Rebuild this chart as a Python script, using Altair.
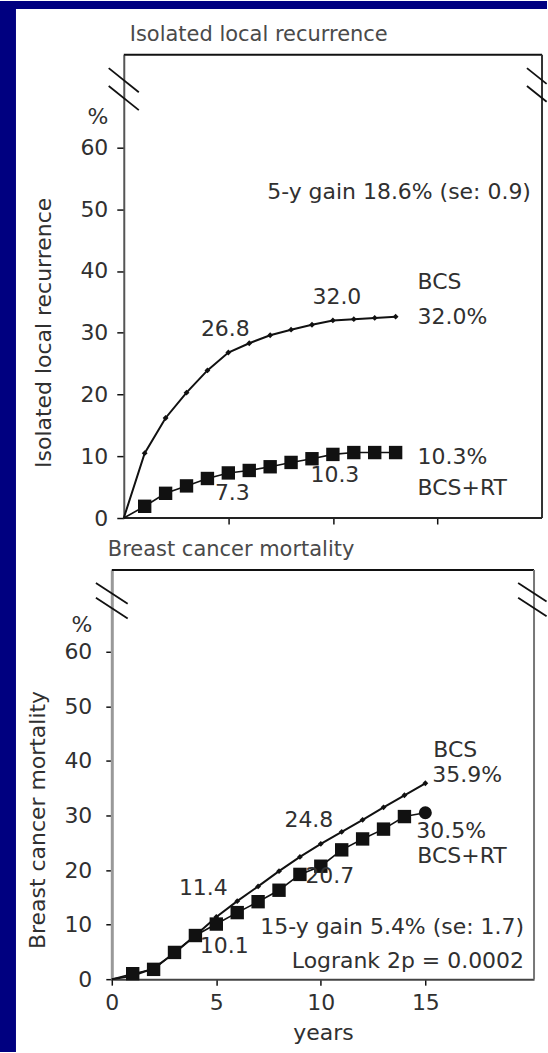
import altair as alt
import pandas as pd

# Cumulative risk (%) by year for breast-conserving surgery alone (BCS)
# and with radiotherapy (BCS+RT)
years_recurrence = list(range(0, 14))
bcs_recurrence = [0.0, 10.5, 16.2, 20.3, 23.9, 26.8, 28.3, 29.6, 30.5, 31.3, 32.0, 32.2, 32.4, 32.6]
rt_recurrence = [0.0, 1.9, 4.0, 5.2, 6.4, 7.3, 7.7, 8.3, 9.0, 9.6, 10.3, 10.6, 10.6, 10.6]

years_mortality = list(range(0, 16))
bcs_mortality = [0.0, 0.6, 2.0, 4.8, 8.0, 11.4, 14.3, 17.0, 19.8, 22.4, 24.8, 27.0, 29.2, 31.5, 33.7, 35.9]
rt_mortality = [0.0, 1.0, 1.8, 4.9, 8.0, 10.1, 12.2, 14.2, 16.3, 19.2, 20.7, 23.7, 25.7, 27.5, 29.8, 30.5]

y_ticks = [0, 10, 20, 30, 40, 50, 60]
x_ticks = [0, 5, 10, 15]
percent_tick = 65  # the "%" unit sits on the axis above 60

recurrence_note = ["5-y gain 18.6% (se: 0.9)"]
mortality_note = ["15-y gain 5.4% (se: 1.7)", "Logrank 2p = 0.0002"]

FONT = "DejaVu Sans"
FS = 22
INK = "#111111"
TEXT = "#303030"
SLIDE_BLUE = "#000080"


def long_frame(years, bcs, rt):
    return pd.DataFrame({
        "year": years + years,
        "pct": bcs + rt,
        "arm": ["BCS"] * len(years) + ["BCS+RT"] * len(years),
    })


def break_marks(x_center, centers, half_w, half_h, x_limit=None):
    rows = []
    for c in centers:
        x1, y1 = x_center - half_w, c + half_h
        x2, y2 = x_center + half_w, c - half_h
        if x_limit is not None and x2 > x_limit:
            t = (x_limit - x1) / (x2 - x1)
            x2, y2 = x_limit, y1 + t * (y2 - y1)
        rows.append({"year": x1, "pct": y1, "year2": x2, "pct2": y2})
    return pd.DataFrame(rows)


def panel(years, bcs, rt, *, title, title_dx, y_title, width, height, x_min, x_max,
          y_offset, y_title_x, y_title_y, y_tick_size, y_label_pad, y_domain_color,
          y_domain_width, right_color, curve_labels, notes, breaks, bottom_axis,
          rt_end_circle, backdrop=None):
    xs = alt.Scale(domain=[x_min, x_max], nice=False, zero=False)
    ys = alt.Scale(domain=[0, 75], nice=False)

    if bottom_axis:
        x_axis = alt.Axis(values=x_ticks, grid=False, tickSize=6, tickWidth=1.5, tickColor=INK,
                          domainColor="#444444", domainWidth=2, labelFontSize=FS, labelColor=TEXT,
                          labelPadding=7, labelFlush=False, labelOverlap=False, title="years",
                          titleFontSize=FS, titleFontWeight="normal", titleColor=TEXT, titlePadding=9)
    else:
        x_axis = alt.Axis(values=[5, 10, 15], grid=False, labels=False, domain=False, tickSize=6,
                          tickWidth=1.5, tickColor=INK, title=None)

    y_axis = alt.Axis(
        values=y_ticks + [percent_tick],
        labelExpr=f"datum.value == {percent_tick} ? '%' : datum.label",
        tickOpacity={"condition": {"test": f"datum.value == {percent_tick}", "value": 0}, "value": 1},
        grid=False, offset=y_offset, tickSize=y_tick_size, tickWidth=1.5, tickColor=INK,
        domainColor=y_domain_color, domainWidth=y_domain_width,
        labelFontSize=FS, labelColor=TEXT, labelPadding=y_label_pad, labelFlush=False,
        labelOverlap=False, title=y_title, titleFontSize=FS, titleFontWeight="normal",
        titleColor=TEXT, titleAngle=270, titleX=y_title_x, titleY=y_title_y,
        titleAlign="center", titleBaseline="alphabetic",
    )

    def X():
        return alt.X("year:Q", scale=xs, axis=x_axis)

    def Y():
        return alt.Y("pct:Q", scale=ys, axis=y_axis)

    layers = []
    if backdrop is not None:
        layers += backdrop

    # box: top border, right border (and baseline when there is no bottom axis)
    top_edge = pd.DataFrame({"year": [0.0], "year2": [x_max], "pct": [75.0]})
    layers.append(alt.Chart(top_edge).mark_rule(color=INK, strokeWidth=2)
                  .encode(x=X(), x2="year2:Q", y=Y()))
    right_edge = pd.DataFrame({"year": [x_max], "pct": [0.0], "pct2": [75.0]})
    layers.append(alt.Chart(right_edge).mark_rule(color=right_color, strokeWidth=2)
                  .encode(x=X(), y=Y(), y2="pct2:Q"))
    if not bottom_axis:
        base_edge = pd.DataFrame({"year": [0.0], "year2": [x_max], "pct": [0.0]})
        layers.append(alt.Chart(base_edge).mark_rule(color="#222222", strokeWidth=2)
                      .encode(x=X(), x2="year2:Q", y=Y()))

    data = long_frame(years, bcs, rt)
    layers.append(alt.Chart(data).transform_filter("datum.arm == 'BCS'")
                  .mark_line(color=INK, strokeWidth=2)
                  .encode(x=X(), y=Y()))
    layers.append(alt.Chart(data).transform_filter("datum.arm == 'BCS+RT'")
                  .mark_line(color=INK, strokeWidth=1.6)
                  .encode(x=X(), y=Y()))
    layers.append(alt.Chart(data).transform_filter("datum.arm == 'BCS' && datum.year > 0")
                  .mark_point(shape="diamond", filled=True, size=34, color=INK, opacity=1)
                  .encode(x=X(), y=Y()))
    last_year = years[-1]
    square_test = "datum.arm == 'BCS+RT' && datum.year > 0"
    if rt_end_circle:
        square_test += f" && datum.year < {last_year}"
        layers.append(alt.Chart(data)
                      .transform_filter(f"datum.arm == 'BCS+RT' && datum.year == {last_year}")
                      .mark_point(shape="circle", filled=True, size=170, color=INK, opacity=1)
                      .encode(x=X(), y=Y()))
    layers.append(alt.Chart(data).transform_filter(square_test)
                  .mark_point(shape="square", filled=True, size=180, color=INK, opacity=1)
                  .encode(x=X(), y=Y()))

    # values written beside the curves
    series = {"BCS": bcs, "BCS+RT": rt}
    for arm, anchor, value_year, template, dx, dy, align in curve_labels:
        vals = series[arm]
        text = template.format(vals[value_year]) if value_year is not None else template
        row = pd.DataFrame({"year": [years[anchor]], "pct": [vals[anchor]], "text": [text]})
        layers.append(alt.Chart(row).mark_text(font=FONT, fontSize=FS, color=TEXT, align=align,
                                               baseline="middle", dx=dx, dy=dy)
                      .encode(x=X(), y=Y(), text="text:N"))

    for text, xv, yv in notes:
        row = pd.DataFrame({"year": [xv], "pct": [yv], "text": [text]})
        layers.append(alt.Chart(row).mark_text(font=FONT, fontSize=FS, color=TEXT, align="right",
                                               baseline="middle")
                      .encode(x=X(), y=Y(), text="text:N"))

    # panel heading above the box
    head = pd.DataFrame({"year": [0.0], "pct": [75.0], "text": [title]})
    layers.append(alt.Chart(head).mark_text(font=FONT, fontSize=21, color="#4a4a4a", align="left",
                                            baseline="alphabetic", dx=title_dx, dy=-14)
                  .encode(x=X(), y=Y(), text="text:N"))

    # axis-break strokes
    for frame in breaks:
        layers.append(alt.Chart(frame).mark_rule(color=INK, strokeWidth=1.8)
                      .encode(x=X(), x2="year2:Q", y=Y(), y2="pct2:Q"))

    return alt.layer(*layers).properties(width=width, height=height)


# Slide frame: blue margin on the left and top edges of the page
LEFT_GAP, TOP_GAP = 112, 54
one = pd.DataFrame({"k": [0]})
backdrop = [
    alt.Chart(one).mark_rect(color=SLIDE_BLUE).encode(
        x=alt.value(-LEFT_GAP), x2=alt.value(-LEFT_GAP + 16),
        y=alt.value(-TOP_GAP), y2=alt.value(1053 - TOP_GAP)),
    alt.Chart(one).mark_rect(color=SLIDE_BLUE).encode(
        x=alt.value(-LEFT_GAP), x2=alt.value(548 - LEFT_GAP),
        y=alt.value(-TOP_GAP), y2=alt.value(-TOP_GAP + 8)),
]

TOP_W, TOP_SHIFT = 431, 12
top_x_min = -TOP_SHIFT * 20 / (TOP_W - TOP_SHIFT)

top = panel(
    years_recurrence, bcs_recurrence, rt_recurrence,
    title="Isolated local recurrence", title_dx=6,
    y_title="Isolated local recurrence",
    width=TOP_W, height=464, x_min=top_x_min, x_max=20,
    y_offset=-TOP_SHIFT, y_title_x=-73, y_title_y=278,
    y_tick_size=7, y_label_pad=9, y_domain_color="#555555", y_domain_width=2,
    right_color="#333333",
    curve_labels=[
        ("BCS", 5, 5, "{:.1f}", -3, -24, "center"),
        ("BCS", 10, 10, "{:.1f}", 4, -23, "center"),
        ("BCS+RT", 5, 5, "{:.1f}", 4, 20, "center"),
        ("BCS+RT", 10, 10, "{:.1f}", 2, 21, "center"),
        ("BCS", 13, None, "BCS", 22, -35, "left"),
        ("BCS", 13, 10, "{:.1f}%", 22, 0, "left"),
        ("BCS+RT", 13, 10, "{:.1f}%", 22, 4.6, "left"),
        ("BCS+RT", 13, None, "BCS+RT", 22, 35.6, "left"),
    ],
    notes=[(recurrence_note[0], 19.47, 52.85)],
    breaks=[break_marks(0, [70.9, 68.0], 0.72, 1.95),
            break_marks(20, [70.9, 68.0], 0.72, 1.95, x_limit=20.22)],
    bottom_axis=False, rt_end_circle=False, backdrop=backdrop,
)

bottom = panel(
    years_mortality, bcs_mortality, rt_mortality,
    title="Breast cancer mortality", title_dx=-4,
    y_title="Breast cancer mortality",
    width=423, height=410, x_min=0, x_max=20.2,
    y_offset=0, y_title_x=-67, y_title_y=250,
    y_tick_size=6, y_label_pad=14, y_domain_color="#999999", y_domain_width=3,
    right_color="#777777",
    curve_labels=[
        ("BCS", 5, 5, "{:.1f}", -13, -29, "center"),
        ("BCS", 10, 10, "{:.1f}", -12, -24, "center"),
        ("BCS+RT", 5, 5, "{:.1f}", 8, 22, "center"),
        ("BCS+RT", 10, 10, "{:.1f}", 9, 10, "center"),
        ("BCS", 15, None, "BCS", 8, -33, "left"),
        ("BCS", 15, 15, "{:.1f}%", 7, -8, "left"),
        ("BCS+RT", 15, 15, "{:.1f}%", -9, 18, "left"),
        ("BCS+RT", 15, None, "BCS+RT", -8, 43, "left"),
    ],
    notes=[(mortality_note[0], 19.72, 9.6), (mortality_note[1], 19.72, 3.4)],
    breaks=[break_marks(0, [70.7, 68.0], 0.76, 1.9),
            break_marks(20.2, [70.7, 68.0], 0.76, 1.9, x_limit=20.8)],
    bottom_axis=True, rt_end_circle=True,
)

chart = (
    alt.vconcat(top, bottom, spacing=52, bounds="flush")
    .properties(padding=0, background="white")
    .configure(font=FONT)
    .configure_view(stroke=None)
)

chart.save("out.html", embed_options={"renderer": "svg", "actions": False})
